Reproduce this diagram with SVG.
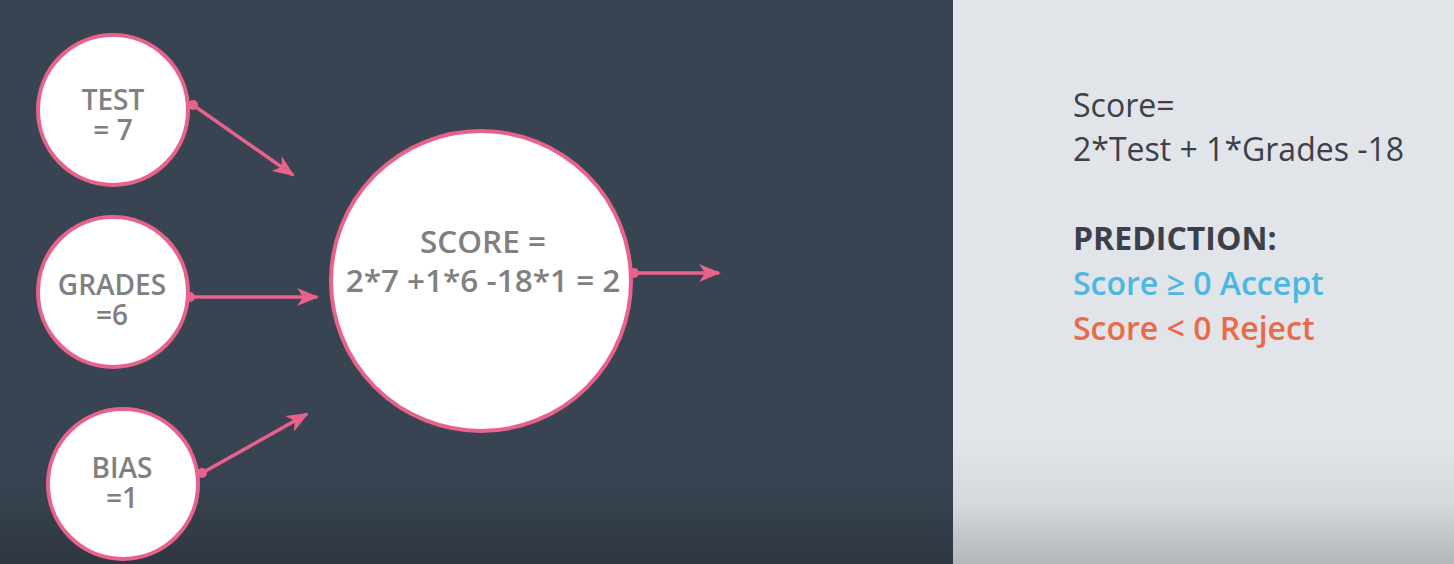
<svg xmlns="http://www.w3.org/2000/svg" width="1454" height="564" viewBox="0 0 1454 564">
<style>
.node{fill:#ffffff;stroke:#e8628c;stroke-width:4}
.nt{font-family:"Open Sans","Liberation Sans",sans-serif;font-weight:600;fill:#808080;text-anchor:middle}
.conn{stroke:#e8628c;stroke-width:3.5;fill:none}
.dot{fill:#e8628c}
.rt{font-family:"Open Sans","Liberation Sans",sans-serif;font-size:32px}
</style>
<defs>
<marker id="ah" viewBox="0 0 22 18" refX="20" refY="9" markerWidth="22" markerHeight="18" markerUnits="userSpaceOnUse" orient="auto">
<path d="M0,0 L22,9 L0,18 L6,9 Z" fill="#e8628c"/>
</marker>
<linearGradient id="shade" x1="0" y1="0" x2="0" y2="1">
<stop offset="0" stop-color="#000" stop-opacity="0"/>
<stop offset="0.5" stop-color="#000" stop-opacity="0.05"/>
<stop offset="1" stop-color="#000" stop-opacity="0.2"/>
</linearGradient>
</defs>
<rect x="0" y="0" width="953" height="564" fill="#394452"/>
<rect x="953" y="0" width="501" height="564" fill="#e1e4e9"/>
<rect x="0" y="440" width="1454" height="124" fill="url(#shade)"/>

<g id="connectors">
<line class="conn" x1="193" y1="105" x2="293" y2="175" marker-end="url(#ah)"/>
<circle class="dot" cx="193" cy="105" r="5"/>
<line class="conn" x1="190" y1="297" x2="317" y2="297" marker-end="url(#ah)"/>
<circle class="dot" cx="190" cy="297" r="5"/>
<line class="conn" x1="202" y1="473" x2="307" y2="414" marker-end="url(#ah)"/>
<circle class="dot" cx="202" cy="473" r="5"/>
<line class="conn" x1="634" y1="273" x2="719" y2="273" marker-end="url(#ah)"/>
<circle class="dot" cx="634" cy="273" r="5"/>
</g>

<g id="test">
<circle class="node" cx="113" cy="110" r="75"/>
<text class="nt" x="113" y="110" font-size="28">TEST</text>
<text class="nt" x="113" y="140" font-size="28">= 7</text>
</g>
<g id="grades">
<circle class="node" cx="113" cy="292" r="75"/>
<text class="nt" x="112" y="295" font-size="28">GRADES</text>
<text class="nt" x="112" y="325" font-size="28">=6</text>
</g>
<g id="bias">
<circle class="node" cx="123" cy="484" r="75"/>
<text class="nt" x="122" y="478" font-size="28">BIAS</text>
<text class="nt" x="122" y="508" font-size="28">=1</text>
</g>
<g id="score">
<circle class="node" cx="481" cy="281" r="150"/>
<text class="nt" x="483" y="253" font-size="31.5">SCORE =</text>
<text class="nt" x="483" y="292" font-size="31.5">2*7 +1*6 -18*1 = 2</text>
</g>

<g id="legend">
<text class="rt" x="1073" y="117" fill="#3b4049">Score=</text>
<text class="rt" x="1073" y="161" fill="#3b4049">2*Test + 1*Grades -18</text>
<text class="rt" x="1073" y="250" fill="#3b4049" font-weight="700" font-size="31">PREDICTION:</text>
<text class="rt" x="1073" y="295" fill="#4bb8e2" font-weight="600">Score ≥ 0 Accept</text>
<text class="rt" x="1073" y="340" fill="#eb6a47" font-weight="600">Score &lt; 0 Reject</text>
</g>
</svg>
